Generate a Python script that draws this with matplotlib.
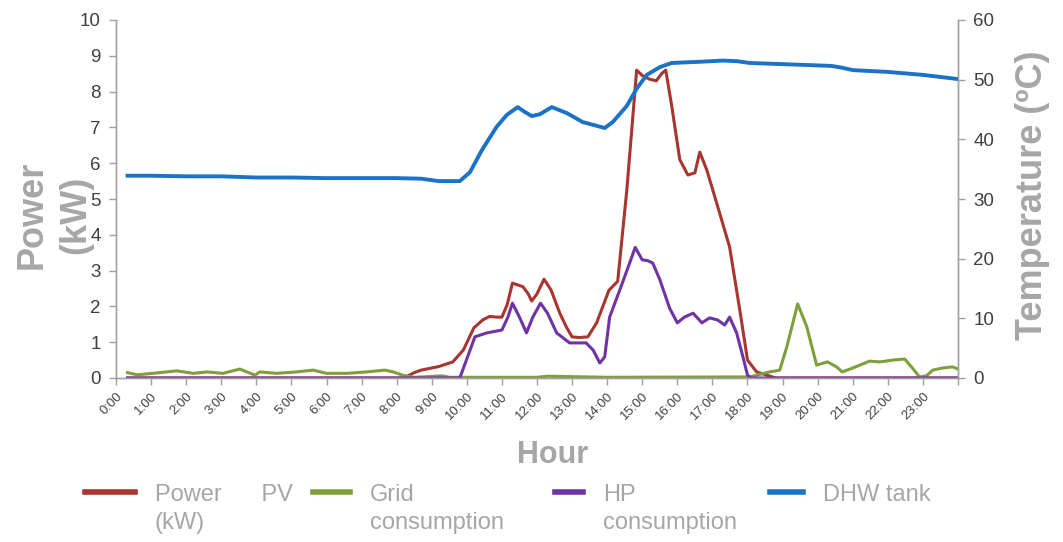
import numpy as np
import matplotlib
matplotlib.use("Agg")
import matplotlib.pyplot as plt

# Colours
RED = "#a8352f"
GREEN = "#7f9f3b"
PURPLE = "#7033a3"
BLUE = "#1c72c4"
LABEL_GRAY = "#a6a6a6"
TICK_GRAY = "#404040"
SPINE_GRAY = "#a0a0a0"

plt.rcParams['font.family'] = ['Liberation Sans', 'DejaVu Sans']

# Hour ticks
hour_ticks = list(range(25))
hour_labels = ["%d:00" % h for h in range(24)] + [""]

# Power PV (kW)
pv_hours = [0.33, 8.2, 8.5, 8.7, 9.2, 9.6, 9.9, 10.2, 10.45, 10.65, 10.85,
            11.0, 11.15, 11.3, 11.45, 11.6, 11.75, 11.85, 12.0, 12.2, 12.4,
            12.65, 12.85, 13.0, 13.2, 13.45, 13.7, 14.05, 14.3, 14.56, 14.84,
            15.0, 15.2, 15.4, 15.55, 15.67, 15.84, 16.07, 16.3, 16.5, 16.64,
            16.84, 17.12, 17.49, 17.78, 18.0, 18.26, 18.55, 18.8, 24.0]
pv_kw = [0.0, 0.0, 0.15, 0.22, 0.32, 0.45, 0.78, 1.40, 1.62, 1.72, 1.70,
         1.70, 2.05, 2.65, 2.60, 2.55, 2.35, 2.15, 2.35, 2.76, 2.46,
         1.81, 1.40, 1.15, 1.13, 1.15, 1.54, 2.45, 2.70, 5.25, 8.60,
         8.45, 8.35, 8.30, 8.50, 8.60, 7.60, 6.10, 5.67, 5.73, 6.31,
         5.81, 4.89, 3.66, 1.90, 0.50, 0.17, 0.08, 0.0, 0.0]

# Grid consumption (kW)
grid_hours = [0.33, 0.6, 1.05, 1.73, 2.2, 2.6, 3.05, 3.53, 3.96, 4.1, 4.58,
              5.15, 5.62, 6.0, 6.58, 7.15, 7.66, 7.9, 8.2, 8.5, 9.3, 9.5,
              10.5, 12.0, 12.3, 14.0, 18.06, 18.63, 18.92, 19.12, 19.43,
              19.69, 19.97, 20.28, 20.54, 20.7, 21.0, 21.2, 21.48, 21.77,
              22.14, 22.48, 22.7, 22.9, 23.1, 23.28, 23.56, 23.85, 24.0]
grid_kw = [0.15, 0.09, 0.13, 0.20, 0.13, 0.17, 0.13, 0.25, 0.08, 0.17, 0.13,
           0.17, 0.22, 0.13, 0.13, 0.17, 0.22, 0.17, 0.07, 0.02, 0.06, 0.02,
           0.02, 0.02, 0.05, 0.02, 0.03, 0.17, 0.22, 0.87, 2.07,
           1.43, 0.36, 0.45, 0.31, 0.17, 0.28, 0.36, 0.47, 0.45,
           0.50, 0.53, 0.28, 0.03, 0.06, 0.22, 0.28, 0.31, 0.25]

# HP consumption (kW)
hp_hours = [0.33, 9.8, 10.23, 10.57, 11.0, 11.17, 11.3, 11.5, 11.7, 11.88,
            12.1, 12.3, 12.56, 12.93, 13.4, 13.6, 13.79, 13.93, 14.07, 14.36,
            14.64, 14.8, 15.0, 15.15, 15.3, 15.5, 15.78, 16.0, 16.2, 16.45,
            16.7, 16.92, 17.15, 17.35, 17.49, 17.69, 17.87, 18.0, 18.1, 24.0]
hp_kw = [0.0, 0.0, 1.15, 1.26, 1.34, 1.70, 2.09, 1.70, 1.26, 1.70,
         2.09, 1.81, 1.26, 0.98, 0.98, 0.78, 0.42, 0.59, 1.70, 2.46,
         3.21, 3.65, 3.30, 3.28, 3.21, 2.75, 1.95, 1.54, 1.70, 1.81,
         1.54, 1.68, 1.62, 1.48, 1.70, 1.26, 0.59, 0.08, 0.0, 0.0]

# DHW tank temperature (degC)
tank_hours = [0.33, 1.0, 2.0, 3.0, 4.0, 5.0, 6.0, 7.0, 8.0, 8.7, 9.2, 9.8,
              10.09, 10.43, 10.85, 11.14, 11.45, 11.65, 11.85, 12.08, 12.42,
              12.85, 13.3, 13.93, 14.16, 14.56, 14.84, 15.13, 15.5, 15.84,
              16.64, 17.3, 17.7, 18.06, 19.49, 20.4, 20.7, 21.0, 22.0, 23.0,
              24.0]
tank_temp = [33.9, 33.9, 33.8, 33.8, 33.6, 33.6, 33.5, 33.5, 33.5, 33.4,
             33.0, 33.0, 34.5, 38.2, 42.1, 44.1, 45.4, 44.6, 43.9, 44.2,
             45.4, 44.4, 42.9, 41.9, 42.9, 45.6, 48.5, 50.8, 52.1, 52.8,
             53.0, 53.2, 53.1, 52.8, 52.5, 52.3, 52.0, 51.6, 51.3, 50.8,
             50.1]

legend_labels = ["Power      PV\n(kW)", "Grid\nconsumption",
                 "HP\nconsumption", "DHW tank"]

fig = plt.figure(figsize=(10.63, 5.42), dpi=100)
ax = fig.add_axes([116 / 1063, 1 - 378 / 542, 842 / 1063, 358 / 542])
ax2 = ax.twinx()

l_pv, = ax.plot(pv_hours, pv_kw, color=RED, lw=2.2)
l_grid, = ax.plot(grid_hours, grid_kw, color=GREEN, lw=2.2)
l_hp, = ax.plot(hp_hours, hp_kw, color=PURPLE, lw=2.2)
l_tank, = ax2.plot(tank_hours, tank_temp, color=BLUE, lw=2.8)

ax.set_xlim(0, 24)
ax.set_ylim(0, 10)
ax2.set_ylim(0, 60)
ax.set_yticks(range(11))
ax2.set_yticks(range(0, 61, 10))
ax.set_xticks(hour_ticks)
ax.set_xticklabels(hour_labels, rotation=45, ha="right", va="top",
                   rotation_mode="anchor", fontsize=9.5, color=TICK_GRAY)

for a in (ax, ax2):
    a.spines["top"].set_visible(False)
    for s in ("left", "right", "bottom"):
        a.spines[s].set_color(SPINE_GRAY)
        a.spines[s].set_linewidth(1)
    a.tick_params(axis="both", colors=SPINE_GRAY, length=5, width=1)
    a.tick_params(axis="y", labelsize=13.5, labelcolor=TICK_GRAY, pad=6)
ax.tick_params(axis="x", labelcolor=TICK_GRAY, pad=4)

# Axis titles
fig.text(54 / 1063, 1 - 215 / 542, "Power\n(kW)", rotation=90, ha="center",
         va="center", multialignment="center", fontsize=26,
         fontweight="bold", color=LABEL_GRAY, linespacing=1.3)
fig.text(1033 / 1063, 1 - 195 / 542, "Temperature (ºC)", rotation=90,
         ha="center", va="center", fontsize=26, fontweight="bold",
         color=LABEL_GRAY)
fig.text(553 / 1063, 1 - 455 / 542, "Hour", ha="center", va="center",
         fontsize=22, fontweight="bold", color=LABEL_GRAY)

# Legend: one entry per block, placed like the original
fs = 17
em = fs * 100 / 72.0
entries = [(l_pv, legend_labels[0], 85, 50),
           (l_grid, legend_labels[1], 313, 37),
           (l_hp, legend_labels[2], 555, 28),
           (l_tank, legend_labels[3], 770, 33)]
for line, label, x0, hlen in entries:
    leg = fig.legend([line], [label], loc="upper left",
                     bbox_to_anchor=(x0 / 1063, 1 - 484 / 542),
                     frameon=False, fontsize=fs, handlelength=hlen / em,
                     handletextpad=20 / em, borderpad=0, borderaxespad=0)
    for t in leg.get_texts():
        t.set_color(LABEL_GRAY)
        t.set_linespacing(1.35)
    for h in leg.legend_handles:
        h.set_linewidth(4)
    # keep the handle level with the first line of the label
    for col in leg._legend_handle_box.get_children():
        for row in col.get_children():
            row.align = "top"

fig.savefig("out.png", dpi=100)
